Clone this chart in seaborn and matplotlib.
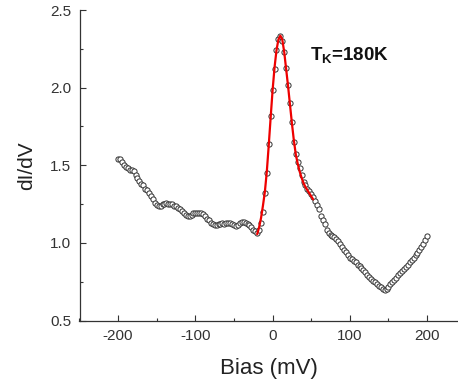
import numpy as np
import pandas as pd
import matplotlib
matplotlib.use("Agg")
import matplotlib.pyplot as plt
import seaborn as sns
from matplotlib.ticker import MultipleLocator

# ---- data ----
bias = [
    -200, -197.5, -195, -192.5, -190, -187.5, -185, -182.5, -180, -177.5,
    -175, -172.5, -170, -167.5, -165, -162.5, -160, -157.5, -155, -152.5,
    -150, -147.5, -145, -142.5, -140, -137.5, -135, -132.5, -130, -127.5,
    -125, -122.5, -120, -117.5, -115, -112.5, -110, -107.5, -105, -102.5,
    -100, -97.5, -95, -92.5, -90, -87.5, -85, -82.5, -80, -77.5,
    -75, -72.5, -70, -67.5, -65, -62.5, -60, -57.5, -55, -52.5,
    -50, -47.5, -45, -42.5, -40, -37.5, -35, -32.5, -30, -27.5,
    -25, -22.5, -20, -17.5, -15, -12.5, -10, -7.5, -5, -2.5,
    0, 2.5, 5, 7.5, 10, 12.5, 15, 17.5, 20, 22.5,
    25, 27.5, 30, 32.5, 35, 37.5, 40, 42.5, 45, 47.5,
    50, 52.5, 55, 57.5, 60, 62.5, 65, 67.5, 70, 72.5,
    75, 77.5, 80, 82.5, 85, 87.5, 90, 92.5, 95, 97.5,
    100, 102.5, 105, 107.5, 110, 112.5, 115, 117.5, 120, 122.5,
    125, 127.5, 130, 132.5, 135, 137.5, 140, 142.5, 145, 147.5,
    150, 152.5, 155, 157.5, 160, 162.5, 165, 167.5, 170, 172.5,
    175, 177.5, 180, 182.5, 185, 187.5, 190, 192.5, 195, 197.5,
    200,
]
didv = [
    1.54, 1.54, 1.52, 1.50, 1.49, 1.48, 1.47, 1.47, 1.46, 1.44,
    1.42, 1.40, 1.38, 1.37, 1.35, 1.34, 1.32, 1.30, 1.28, 1.26,
    1.245, 1.24, 1.24, 1.25, 1.25, 1.255, 1.25, 1.25, 1.25, 1.24,
    1.235, 1.225, 1.215, 1.205, 1.195, 1.18, 1.17, 1.17, 1.18, 1.19,
    1.195, 1.195, 1.19, 1.19, 1.185, 1.17, 1.155, 1.145, 1.13, 1.12,
    1.115, 1.115, 1.12, 1.12, 1.125, 1.12, 1.125, 1.13, 1.125, 1.12,
    1.115, 1.11, 1.115, 1.125, 1.135, 1.135, 1.13, 1.12, 1.115, 1.10,
    1.085, 1.075, 1.065, 1.08, 1.13, 1.20, 1.32, 1.45, 1.64, 1.82,
    1.985, 2.12, 2.245, 2.31, 2.33, 2.30, 2.23, 2.125, 2.02, 1.90,
    1.78, 1.65, 1.575, 1.52, 1.48, 1.435, 1.395, 1.37, 1.35, 1.335,
    1.315, 1.295, 1.27, 1.245, 1.22, 1.175, 1.15, 1.12, 1.085, 1.065,
    1.05, 1.045, 1.035, 1.025, 1.01, 0.995, 0.975, 0.955, 0.94, 0.92,
    0.905, 0.895, 0.885, 0.875, 0.86, 0.85, 0.84, 0.825, 0.81, 0.795,
    0.78, 0.765, 0.755, 0.745, 0.735, 0.725, 0.715, 0.705, 0.698, 0.705,
    0.715, 0.735, 0.75, 0.76, 0.775, 0.79, 0.805, 0.82, 0.83, 0.845,
    0.86, 0.875, 0.89, 0.905, 0.92, 0.935, 0.955, 0.975, 0.99, 1.02,
    1.045,
]
fit_bias = [
    -20, -17.5, -15, -12.5, -10, -7.5, -5, -2.5, 0, 2.5,
    5, 7.5, 10, 12.5, 15, 17.5, 20, 22.5, 25, 27.5,
    30, 32.5, 35, 37.5, 40, 42.5, 45, 47.5, 50, 52.5,
]
fit_didv = [
    1.056, 1.10, 1.16, 1.24, 1.33, 1.46, 1.63, 1.81, 1.985, 2.13,
    2.24, 2.31, 2.335, 2.31, 2.23, 2.12, 2.01, 1.89, 1.77, 1.66,
    1.57, 1.51, 1.46, 1.42, 1.385, 1.36, 1.34, 1.32, 1.30, 1.28,
]
x_ticks = [-200, -100, 0, 100, 200]
y_ticks = [0.5, 1.0, 1.5, 2.0, 2.5]
y_tick_labels = ["0.5", "1.0", "1.5", "2.0", "2.5"]

df = pd.DataFrame({"Bias": bias, "dIdV": didv})
df_fit = pd.DataFrame({"Bias": fit_bias, "dIdV": fit_didv})

# ---- style ----
sns.set_style("white")
plt.rcParams["font.family"] = ["Liberation Sans", "DejaVu Sans"]
plt.rcParams["axes.unicode_minus"] = False
plt.rcParams["mathtext.fontset"] = "custom"
plt.rcParams["mathtext.rm"] = "Liberation Sans"
plt.rcParams["mathtext.bf"] = "Liberation Sans:bold"

fig = plt.figure(figsize=(4.58, 3.84), dpi=100)
ax = fig.add_axes([79.5 / 458, 1 - 320.5 / 384, 1 - 79.5 / 458, (320.5 - 10) / 384])

sns.scatterplot(data=df, x="Bias", y="dIdV", ax=ax, marker="o", s=14,
                facecolor="white", edgecolor="#333333", linewidth=0.7,
                zorder=2, legend=False)
sns.lineplot(data=df_fit, x="Bias", y="dIdV", ax=ax, color="#ee0000",
             linewidth=1.6, zorder=3, legend=False)

ax.set_xlim(-250, 240)
ax.set_ylim(0.5, 2.5)
ax.set_xticks(x_ticks)
ax.set_yticks(y_ticks)
ax.set_yticklabels(y_tick_labels)
ax.xaxis.set_minor_locator(MultipleLocator(50))
ax.yaxis.set_minor_locator(MultipleLocator(0.25))

for side in ["top", "right"]:
    ax.spines[side].set_visible(False)
for side in ["left", "bottom"]:
    ax.spines[side].set_color("#333333")
    ax.spines[side].set_linewidth(0.9)

ax.tick_params(axis="both", which="major", direction="in", length=4.5,
               width=0.8, color="#333333", labelsize=11, labelcolor="#333333", pad=6)
ax.tick_params(axis="both", which="minor", direction="in", length=2.5,
               width=0.8, color="#333333")
ax.tick_params(axis="x", which="both", bottom=True, top=False)
ax.tick_params(axis="y", which="both", left=True, right=False)

ax.set_xlabel("Bias (mV)", fontsize=16, color="#222222", labelpad=11)
ax.set_ylabel("dI/dV", fontsize=15, color="#222222", labelpad=10)

ax.text(48, 2.18, r"$\mathbf{T_{K}}$=180K", fontsize=13.5, fontweight="bold",
        color="#111111", va="baseline", ha="left")

fig.savefig("out.png", dpi=100)
